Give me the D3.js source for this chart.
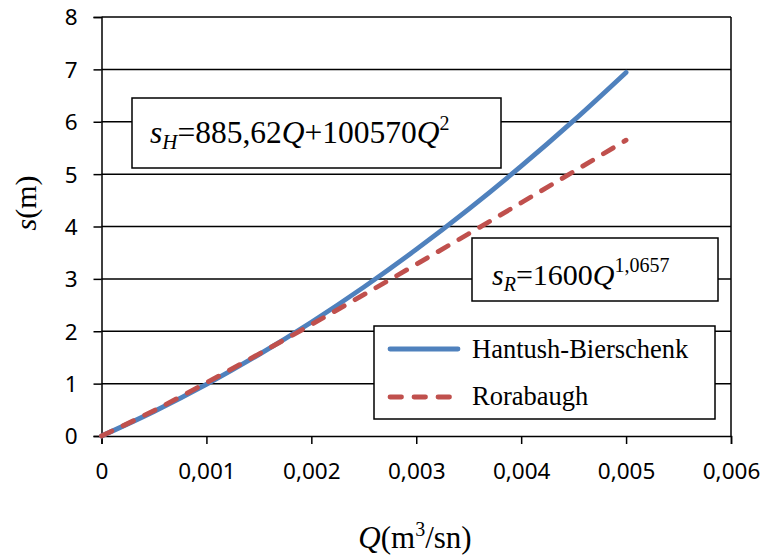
<!DOCTYPE html>
<html>
<head>
<meta charset="utf-8">
<script src="https://cdn.jsdelivr.net/npm/d3@7/dist/d3.min.js"></script>
<style>
  html, body { margin: 0; padding: 0; background: #fff; }
  svg { display: block; }
</style>
</head>
<body>
<svg id="chart" width="766" height="559"></svg>
<script>
// Discharge Q (m3/sn) and drawdown s (m) for the two well-loss models
const discharge = [0, 0.0005, 0.001, 0.0015, 0.002, 0.0025, 0.003, 0.0035, 0.004, 0.0045, 0.005];
const hantushS  = [0, 0.4680, 0.9862, 1.5547, 2.1735, 2.8426, 3.5620, 4.3317, 5.1516, 6.0218, 6.9424];
const rorabaughS = [0, 0.4855, 1.0163, 1.5656, 2.1273, 2.6984, 3.2772, 3.8623, 4.4529, 5.0484, 5.6483];
const seriesNames = ["Hantush-Bierschenk", "Rorabaugh"];
const xTicks = [0, 0.001, 0.002, 0.003, 0.004, 0.005, 0.006];
const yTicks = [0, 1, 2, 3, 4, 5, 6, 7, 8];

const svg = d3.select("#chart");
const plot = { left: 101.5, right: 731, top: 17, bottom: 436 };

const x = d3.scaleLinear().domain([0, 0.006]).range([plot.left, plot.right]);
const y = d3.scaleLinear().domain([0, 8]).range([plot.bottom, plot.top]);

const tickFont = "'Noto Sans', 'Open Sans', sans-serif";
const serif = "'Liberation Serif', 'Times New Roman', serif";
const fmt = v => v === 0 ? "0" : d3.format(".3f")(v).replace(".", ",");

// Horizontal gridlines
svg.append("g").selectAll("line").data(yTicks.slice(1)).join("line")
  .attr("x1", plot.left).attr("x2", plot.right)
  .attr("y1", d => y(d)).attr("y2", d => y(d))
  .attr("stroke", "#000").attr("stroke-width", 1.5);

// Plot border (right edge)
svg.append("line")
  .attr("x1", plot.right).attr("x2", plot.right)
  .attr("y1", plot.top).attr("y2", plot.bottom)
  .attr("stroke", "#000").attr("stroke-width", 1.5);

// Axes
const xAxis = svg.append("g")
  .attr("transform", `translate(0,${plot.bottom})`)
  .call(d3.axisBottom(x).tickValues(xTicks).tickFormat(fmt).tickSize(8).tickPadding(19));
const yAxis = svg.append("g")
  .attr("transform", `translate(${plot.left},0)`)
  .call(d3.axisLeft(y).tickValues(yTicks).tickFormat(d3.format("d")).tickSize(8).tickPadding(16));

[xAxis, yAxis].forEach(g => {
  g.select(".domain").attr("stroke", "#000").attr("stroke-width", 1.5);
  g.selectAll(".tick line").attr("stroke", "#000").attr("stroke-width", 1.5);
  g.selectAll(".tick text")
    .attr("font-family", tickFont).attr("font-size", 22.5).attr("fill", "#000");
});
yAxis.selectAll(".tick text").attr("dy", "0.35em");
xAxis.selectAll(".tick text").attr("dy", "0.71em");

// Equation boxes
function eqBox(x0, y0, w, h) {
  svg.append("rect").attr("x", x0).attr("y", y0).attr("width", w).attr("height", h)
    .attr("fill", "#fff").attr("stroke", "#000").attr("stroke-width", 1.5);
}
eqBox(132, 98, 369, 70);
eqBox(472, 238, 246, 63);

// Curves
const pts = vals => discharge.map((q, i) => [q, vals[i]]);
const line = d3.line().x(d => x(d[0])).y(d => y(d[1])).curve(d3.curveMonotoneX);

svg.append("path").datum(pts(hantushS))
  .attr("d", line).attr("fill", "none")
  .attr("stroke", "#4F81BD").attr("stroke-width", 4.8).attr("stroke-linecap", "round");
svg.append("path").datum(pts(rorabaughS))
  .attr("d", line).attr("fill", "none")
  .attr("stroke", "#C0504D").attr("stroke-width", 4.8)
  .attr("stroke-linecap", "round").attr("stroke-dasharray", "11.5,12.5");

// Equation texts
const eq1 = svg.append("text").attr("x", 150).attr("y", 143)
  .attr("font-family", serif).attr("font-size", 31.5).attr("fill", "#000");
eq1.append("tspan").attr("font-style", "italic").text("s");
eq1.append("tspan").attr("font-style", "italic").attr("font-size", 21).attr("dy", 6).text("H");
eq1.append("tspan").attr("dy", -6).text("=885,62");
eq1.append("tspan").attr("font-style", "italic").text("Q");
eq1.append("tspan").text("+100570");
eq1.append("tspan").attr("font-style", "italic").text("Q");
eq1.append("tspan").attr("font-size", 20).attr("dy", -13).text("2");

const eq2 = svg.append("text").attr("x", 492).attr("y", 285)
  .attr("font-family", serif).attr("font-size", 30).attr("fill", "#000");
eq2.append("tspan").attr("font-style", "italic").text("s");
eq2.append("tspan").attr("font-style", "italic").attr("font-size", 20).attr("dy", 6).text("R");
eq2.append("tspan").attr("dy", -6).text("=1600");
eq2.append("tspan").attr("font-style", "italic").text("Q");
eq2.append("tspan").attr("font-size", 20).attr("dy", -13).text("1,0657");

// Legend
svg.append("rect").attr("x", 374).attr("y", 326).attr("width", 341).attr("height", 93)
  .attr("fill", "#fff").attr("stroke", "#000").attr("stroke-width", 1.5);
const legendRows = [
  { name: seriesNames[0], color: "#4F81BD", dash: null, ly: 349, ty: 358 },
  { name: seriesNames[1], color: "#C0504D", dash: "11.5,12.5", ly: 397, ty: 405 }
];
legendRows.forEach(r => {
  svg.append("line").attr("x1", 390).attr("x2", 458).attr("y1", r.ly).attr("y2", r.ly)
    .attr("stroke", r.color).attr("stroke-width", 4.8).attr("stroke-linecap", "round")
    .attr("stroke-dasharray", r.dash);
  svg.append("text").attr("x", 472).attr("y", r.ty)
    .attr("font-family", serif).attr("font-size", 26.5).attr("fill", "#000").text(r.name);
});

// Axis titles
const yt = svg.append("text")
  .attr("transform", "translate(36,203) rotate(-90)")
  .attr("text-anchor", "middle").attr("font-family", serif).attr("font-size", 30).attr("fill", "#000");
yt.append("tspan").attr("font-style", "italic").text("s");
yt.append("tspan").text("(m)");

const xt = svg.append("text").attr("x", 415).attr("y", 548)
  .attr("text-anchor", "middle").attr("font-family", serif).attr("font-size", 31).attr("fill", "#000");
xt.append("tspan").attr("font-style", "italic").text("Q");
xt.append("tspan").text("(m");
xt.append("tspan").attr("font-size", 20).attr("dy", -12).text("3");
xt.append("tspan").attr("dy", 12).text("/sn)");
</script>
</body>
</html>
